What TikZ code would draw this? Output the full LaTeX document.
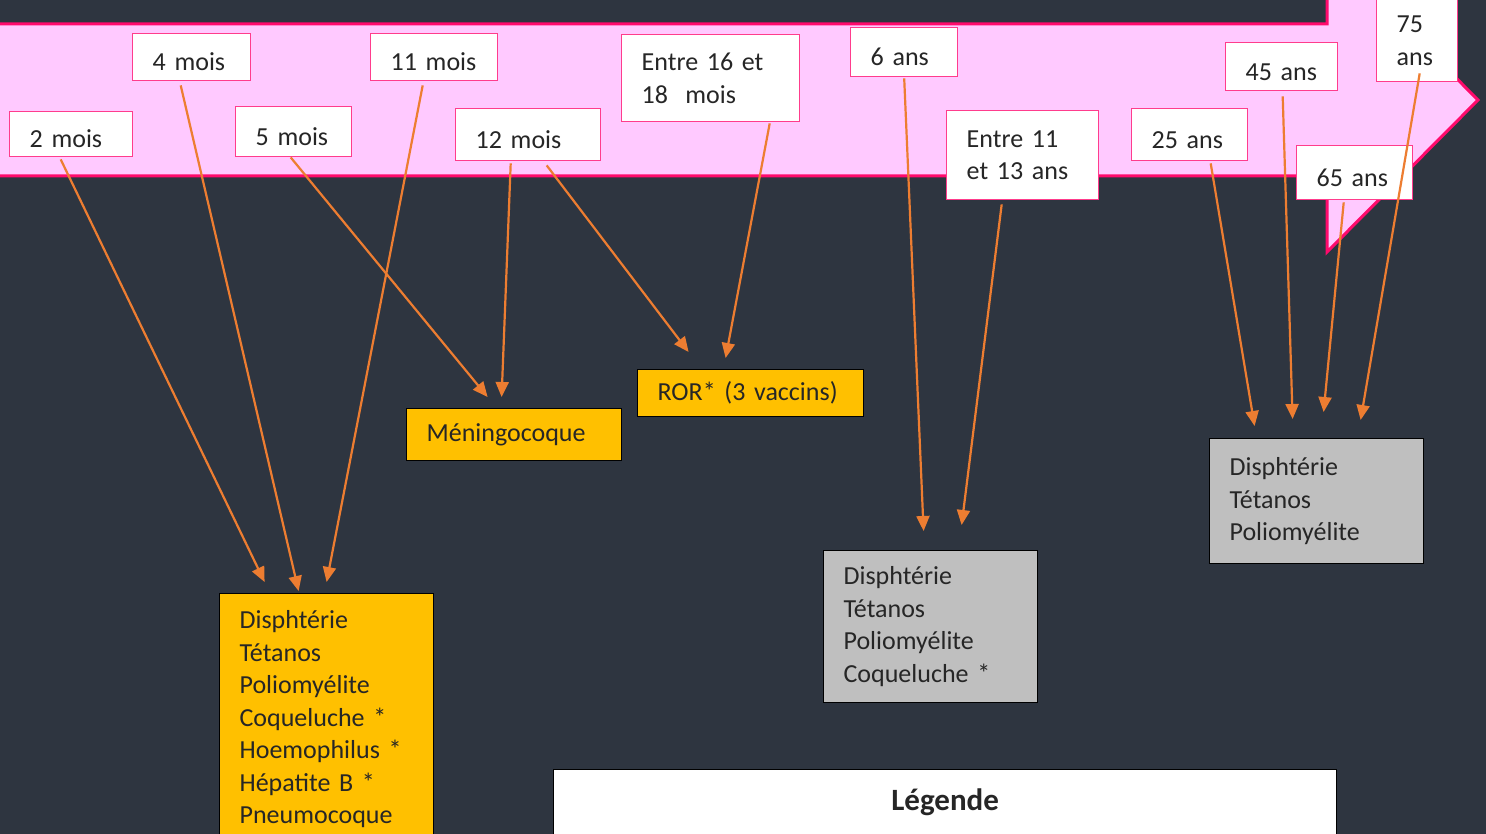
\documentclass[tikz,border=0pt]{standalone}
\usepackage{fontspec}
\setmainfont{Carlito}
\usepackage{tikz}
\usetikzlibrary{arrows.meta}
\definecolor{bgDark}{HTML}{2E3540}
\definecolor{bandPink}{HTML}{FFC9FF}
\definecolor{bandEdge}{HTML}{FF0A6C}
\definecolor{agePink}{HTML}{FF3C8C}
\definecolor{arrOrange}{HTML}{ED7D31}
\definecolor{vaccYellow}{HTML}{FFC000}
\definecolor{vaccGray}{HTML}{BFBFBF}
\definecolor{txtDark}{HTML}{262626}

\begin{document}
\begin{tikzpicture}[
    x=1pt, y=-1pt,
    font=\fontsize{26}{32.5}\selectfont,
    band/.style={draw=bandEdge, line width=3pt, fill=bandPink, line join=miter},
    agebox/.style={rectangle, draw=agePink, line width=1.4pt, fill=white, text=txtDark, anchor=north west, align=left, inner xsep=20pt, inner ysep=0pt},
    oneline/.style={text height=27pt, text depth=0pt},
    vacc/.style={rectangle, draw=black, line width=1.2pt, fill=vaccYellow, text=txtDark, anchor=north west, align=left, inner xsep=20pt, inner ysep=0pt},
    grey/.style={vacc, fill=vaccGray},
    link/.style={draw=arrOrange, line width=2.2pt, -{Triangle[length=15pt, width=13pt]}},
]
    \useasboundingbox[fill=bgDark] (0,0) rectangle (1486,834);

    % timeline arrow
    \draw[band] (-10,24) -- (1327,24) -- (1327,-52) -- (1478,100) -- (1327,252) -- (1327,176) -- (-10,176) -- cycle;

    % ages
    \node[agebox, oneline, text width=83pt, minimum height=45pt] (m2) at (9,111) {2 mois};
    \node[agebox, oneline, text width=78pt, minimum height=47pt] (m4) at (132,33) {4 mois};
    \node[agebox, oneline, text width=76pt, minimum height=50pt] (m5) at (235,106) {5 mois};
    \node[agebox, oneline, text width=87pt, minimum height=47pt] (m11) at (370,33) {11 mois};
    \node[agebox, oneline, text width=105pt, minimum height=52pt] (m12) at (455,108) {12 mois};
    \node[agebox, text width=138pt, minimum height=87pt] (m16) at (621,34) {Entre 16 et\\18~ mois};
    \node[agebox, oneline, text width=67pt, minimum height=49pt] (a6) at (850,27) {6 ans};
    \node[agebox, text width=112pt, minimum height=89pt] (a11) at (946,110) {Entre 11\\et 13 ans};
    \node[agebox, oneline, text width=76pt, minimum height=52pt] (a25) at (1131,108) {25 ans};
    \node[agebox, oneline, text width=72pt, minimum height=48pt] (a45) at (1225,42) {45 ans};
    \node[agebox, oneline, text width=76pt, minimum height=54pt] (a65) at (1296,145) {65 ans};
    \node[agebox, text width=41pt, minimum height=82pt] (a75) at (1376,-1) {75\\ans};

    % vaccins
    \node[vacc, text width=175pt, minimum height=52pt] (mening) at (406,408) {Méningocoque};
    \node[vacc, text width=186pt, minimum height=47pt] (ror) at (637,369) {ROR* (3 vaccins)};
    \node[vacc, text width=174pt, inner ysep=17pt] (dtp) at (219,593) {Disphtérie\\Tétanos\\Poliomyélite\\Coqueluche *\\Hoemophilus *\\Hépatite B *\\Pneumocoque};
    \node[grey, text width=174pt, minimum height=152pt] (dtpc) at (823,550) {Disphtérie\\Tétanos\\Poliomyélite\\Coqueluche *};
    \node[grey, text width=174pt, minimum height=125pt] (dtpa) at (1209,438) {Disphtérie\\Tétanos\\Poliomyélite};

    \node[rectangle, draw=black, line width=1.2pt, fill=white, text=txtDark, anchor=north west, align=center, text width=783pt, inner sep=0pt, text height=41pt, text depth=60pt, font=\fontsize{31}{36}\selectfont\bfseries] (legende) at (553,769) {Légende};

    % links
    \draw[link] ([xshift=-10.5pt, yshift=-2pt]m2.south) -- ([xshift=-62pt, yshift=11pt]dtp.north);
    \draw[link] ([xshift=-11pt, yshift=-4pt]m4.south) -- ([xshift=-28pt, yshift=2pt]dtp.north);
    \draw[link] ([xshift=-11.5pt, yshift=-4pt]m11.south) -- ([yshift=11pt]dtp.north);
    \draw[link] ([xshift=-3pt]m5.south) -- ([xshift=-26.5pt, yshift=11pt]mening.north);
    \draw[link] ([xshift=-17.5pt, yshift=-2pt]m12.south) -- ([xshift=-12.5pt, yshift=11pt]mening.north);
    \draw[link] ([xshift=18.5pt, yshift=-4pt]m12.south) -- ([xshift=-62pt, yshift=17pt]ror.north);
    \draw[link] ([xshift=59pt, yshift=-1pt]m16.south) -- ([xshift=-25pt, yshift=11pt]ror.north);
    \draw[link] ([yshift=-1pt]a6.south) -- ([xshift=-7pt, yshift=19pt]dtpc.north);
    \draw[link] ([xshift=-21pt, yshift=-4pt]a11.south) -- ([xshift=31pt, yshift=25pt]dtpc.north);
    \draw[link] ([xshift=21pt, yshift=-2pt]a25.south) -- ([xshift=-62pt, yshift=12pt]dtpa.north);
    \draw[link] ([xshift=1pt, yshift=-5pt]a45.south) -- ([xshift=-24pt, yshift=19pt]dtpa.north);
    \draw[link] ([xshift=-11pt, yshift=-2pt]a65.south) -- ([xshift=7pt, yshift=26pt]dtpa.north);
    \draw[link] ([xshift=2.5pt, yshift=9pt]a75.south) -- ([xshift=44pt, yshift=18pt]dtpa.north);
\end{tikzpicture}
\end{document}
